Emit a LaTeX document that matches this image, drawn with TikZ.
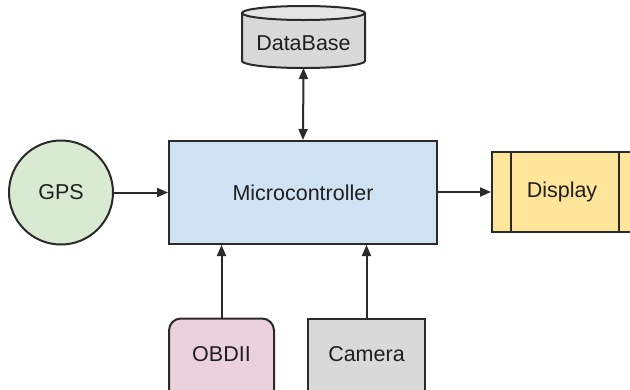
\documentclass[tikz,border=0pt]{standalone}
\usepackage{fontspec}
\setmainfont{Liberation Sans}
\usetikzlibrary{arrows.meta}
\definecolor{edge}{HTML}{2A2A2A}
\definecolor{microfill}{HTML}{CFE2F3}
\definecolor{gpsfill}{HTML}{D9EAD3}
\definecolor{dispfill}{HTML}{FFE599}
\definecolor{obdfill}{HTML}{EAD1DC}
\definecolor{grayfill}{HTML}{D9D9D9}
\tikzset{
  box/.style={draw=edge, line width=2pt, inner sep=0pt, font=\fontsize{21.5}{25}\selectfont, text=black!88},
  lbl/.style={font=\fontsize{21.5}{25}\selectfont, text=black!88},
  conn/.style={draw=edge, line width=2pt, -{Triangle[length=11pt,width=9pt]}},
  biconn/.style={draw=edge, line width=2pt, {Triangle[length=11pt,width=9pt]}-{Triangle[length=11pt,width=9pt]}}
}
\begin{document}
\begin{tikzpicture}[x=1pt,y=-1pt]
\useasboundingbox (0,0) rectangle (630,389);
\clip (0,0) rectangle (630,389);
% Microcontroller
\node[box, fill=microfill, minimum width=268pt, minimum height=103pt] (micro) at (303,192.5) {Microcontroller};
% GPS
\node[box, circle, fill=gpsfill, minimum size=104pt] (gps) at (61,192.5) {GPS};
% Display
\node[box, fill=dispfill, minimum width=150pt, minimum height=80pt] (disp) at (567,192) {};
\draw[edge, line width=2pt] (511,152) -- (511,232) (619,152) -- (619,232);
\node[lbl] (disptext) at (562,192) {Display};
% DataBase cylinder
\coordinate (dbbot) at (303.5,68);
\fill[grayfill] (242,13) -- (242,61) arc[start angle=180, end angle=360, x radius=61.5pt, y radius=7pt] -- (365,13) arc[start angle=0, end angle=180, x radius=61.5pt, y radius=7pt] -- cycle;
\draw[edge, line width=2pt] (242,13) -- (242,61) arc[start angle=180, end angle=360, x radius=61.5pt, y radius=7pt] -- (365,13);
\draw[edge, line width=2pt, fill=grayfill!70!white] (303.5,13) ellipse[x radius=61.5pt, y radius=7pt];
\node[lbl] (db) at (303.5,43) {DataBase};
% OBDII
\node[box, fill=obdfill, rounded corners=12pt, minimum width=105pt, minimum height=90pt, anchor=north] (obd) at (221.5,317.5) {};
\node[lbl] (obdtext) at (221.5,354) {OBDII};
% Camera
\node[box, fill=grayfill, minimum width=117pt, minimum height=90pt, anchor=north] (cam) at (366.5,318) {};
\node[lbl] (camtext) at (366.5,354) {Camera};
% connectors
\draw[biconn] (dbbot) -- (micro.north);
\draw[conn] (gps.east) -- (micro.west);
\draw[conn] (micro.east |- disp.west) -- (disp.west);
\draw[conn] (obd.north) -- (obd.north |- micro.south);
\draw[conn] (cam.north) -- (cam.north |- micro.south);
\end{tikzpicture}
\end{document}
